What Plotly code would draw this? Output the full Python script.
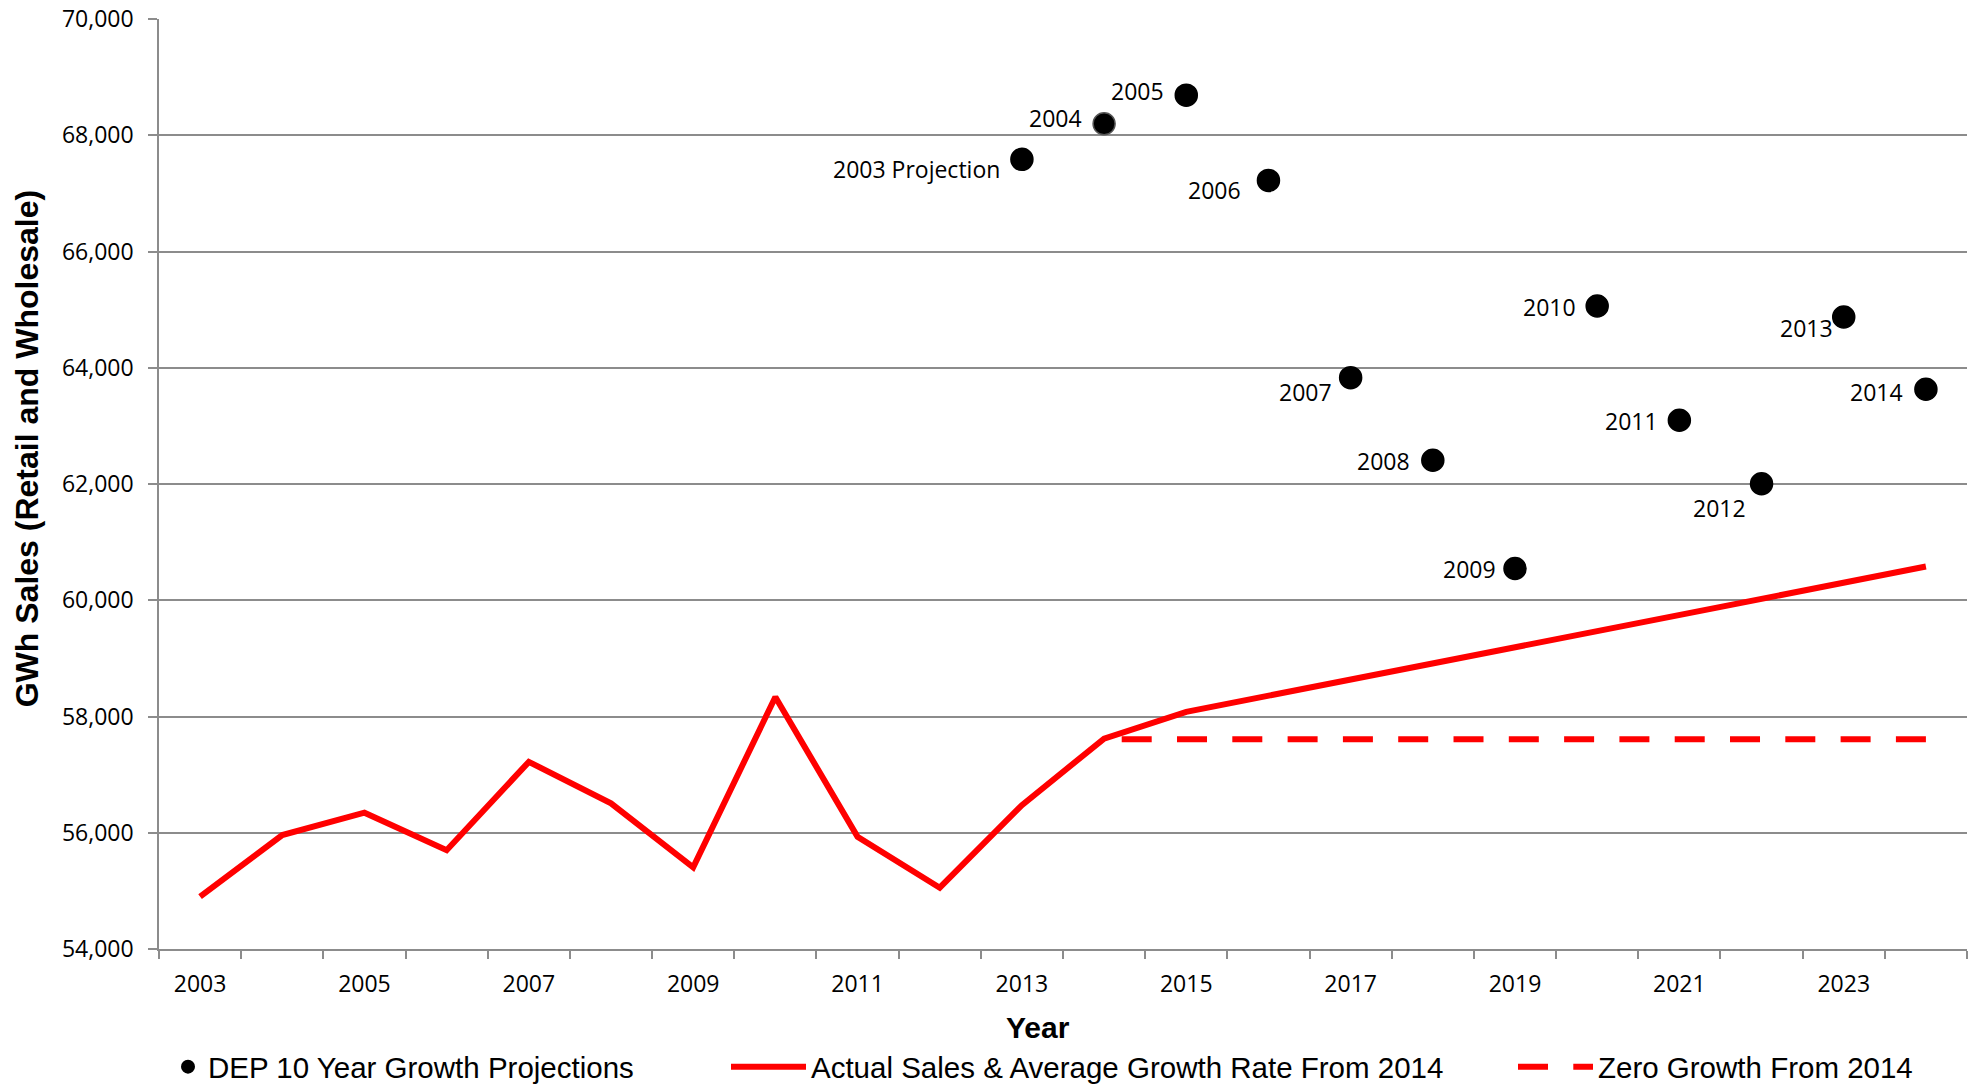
import plotly.graph_objects as go

# ---- data ----
years_actual = [2003, 2004, 2005, 2006, 2007, 2008, 2009, 2010, 2011, 2012, 2013, 2014,
                2015, 2016, 2017, 2018, 2019, 2020, 2021, 2022, 2023, 2024]
sales_actual = [54900, 55960, 56345, 55700, 57220, 56505, 55405, 58335, 55930, 55055, 56475, 57620,
                58080, 58360, 58640, 58910, 59190, 59470, 59750, 60020, 60300, 60580]

# drawn from 2024 back to 2014
years_zero = [2024, 2023, 2022, 2021, 2020, 2019, 2018, 2017, 2016, 2015, 2014]
sales_zero = [57610, 57610, 57610, 57610, 57610, 57610, 57610, 57610, 57610, 57610, 57610]

proj_years = [2013, 2014, 2015, 2016, 2017, 2018, 2019, 2020, 2021, 2022, 2023, 2024]
proj_values = [67585, 68198, 68690, 67223, 63830, 62408, 60546, 65062, 63096, 62005, 64873, 63629]
proj_labels = ["2003 Projection", "2004", "2005", "2006", "2007", "2008", "2009", "2010",
               "2011", "2012", "2013", "2014"]

tick_years = [2003, 2005, 2007, 2009, 2011, 2013, 2015, 2017, 2019, 2021, 2023]
tick_text = [str(y) for y in tick_years]

# label offsets in px (style, not data)
label_dx = [-22, -22, -22, -27, -19, -23, -19, -21, -21, -16, -11, -23]
label_dy = [-10, 6, 4, -10, -14, -1, 0, -1, -1, -24, -11, -3]

GRID = "#8c8c8c"
RED = "#ff0000"
W, H = 1979, 1086
L, R, T, B = 159, 1967, 18.5, 949

fig = go.Figure()

fig.add_trace(go.Scatter(
    x=proj_years, y=proj_values, mode="markers",
    name="DEP 10 Year Growth Projections",
    marker=dict(color="black", size=22,
                line=dict(color=["black", "#555555"] + ["black"] * 10, width=1.5)),
    legend="legend",
))
fig.add_trace(go.Scatter(
    x=years_actual, y=sales_actual, mode="lines",
    name="Actual Sales & Average Growth Rate From 2014",
    line=dict(color=RED, width=6),
    legend="legend2",
))
fig.add_trace(go.Scatter(
    x=years_zero, y=sales_zero, mode="lines",
    name="Zero Growth From 2014",
    line=dict(color=RED, width=6, dash="30px,25.3px"),
    legend="legend3",
))

annotations = []
for x, y, t, dx, dy in zip(proj_years, proj_values, proj_labels, label_dx, label_dy):
    annotations.append(dict(
        x=x, y=y, xref="x", yref="y", text=t, showarrow=False,
        xanchor="right", yanchor="middle", xshift=dx + 2, yshift=dy,
        font=dict(family="Open Sans, sans-serif", size=23, color="black"),
    ))

# axis titles (positions given in pixels, converted to paper coords)
title_font = dict(family="Liberation Sans, Arial, sans-serif", color="black", weight="bold")
annotations.append(dict(
    x=(27 - L) / (R - L), y=(B - 449) / (B - T), xref="paper", yref="paper",
    text="GWh Sales (Retail and Wholesale)",
    showarrow=False, textangle=-90, xanchor="center", yanchor="middle",
    font=dict(size=32, **title_font),
))
annotations.append(dict(
    x=(1038 - L) / (R - L), y=(B - 1028) / (B - T), xref="paper", yref="paper",
    text="Year", showarrow=False, xanchor="center", yanchor="middle",
    font=dict(size=30, **title_font),
))

legend_font = dict(family="Liberation Sans, Arial, sans-serif", size=29.5, color="black")
leg_y = 1 - 1067 / H

fig.update_layout(
    width=W, height=H,
    paper_bgcolor="white", plot_bgcolor="white",
    margin=dict(l=L, r=W - R, t=T, b=H - B, pad=0, autoexpand=False),
    showlegend=True,
    legend=dict(x=168 / W, y=leg_y, xref="container", yref="container",
                xanchor="left", yanchor="middle", orientation="h",
                font=legend_font, itemsizing="constant", bgcolor="rgba(0,0,0,0)"),
    legend2=dict(x=726 / W, y=leg_y, xref="container", yref="container",
                 xanchor="left", yanchor="middle", orientation="h",
                 font=legend_font, itemwidth=75, bgcolor="rgba(0,0,0,0)"),
    legend3=dict(x=1513 / W, y=leg_y, xref="container", yref="container",
                 xanchor="left", yanchor="middle", orientation="h",
                 font=legend_font, itemwidth=75, bgcolor="rgba(0,0,0,0)"),
    annotations=annotations,
    xaxis=dict(
        range=[2002.5, 2024.5], tickmode="array", tickvals=tick_years, ticktext=tick_text,
        showgrid=False, zeroline=False, showline=True, linecolor=GRID, linewidth=1.5,
        ticks="", ticklabelstandoff=14, automargin=False,
        tickfont=dict(family="Open Sans, sans-serif", size=23, color="black"),
        minor=dict(tick0=2002.5, dtick=1, ticks="outside", ticklen=8, tickcolor=GRID,
                   tickwidth=1.5, showgrid=False),
    ),
    yaxis=dict(
        range=[54000, 70000], dtick=2000, tick0=54000, tickformat=",",
        showgrid=True, gridcolor=GRID, gridwidth=1.5, zeroline=False,
        showline=True, linecolor=GRID, linewidth=1.5,
        ticks="outside", ticklen=9, tickcolor=GRID, tickwidth=1.5,
        ticklabelstandoff=10, automargin=False,
        tickfont=dict(family="Open Sans, sans-serif", size=23, color="black"),
    ),
)

fig.write_html("out.html")
